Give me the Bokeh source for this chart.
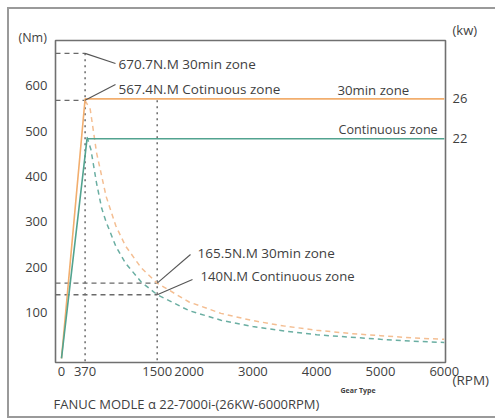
from bokeh.plotting import figure
from bokeh.models import Range1d, LinearAxis, FixedTicker, Label, Title
from bokeh.embed import file_html
from bokeh.resources import INLINE

# ---- data ----
x_ticks = [0, 370, 1500, 2000, 3000, 4000, 5000, 6000]
y_ticks = [100, 200, 300, 400, 500, 600]
kw_ticks = [22, 26]

# power curves (kW, right axis)
p30_rpm = [0, 370, 6000]
p30_kw = [0, 26, 26]
pc_rpm = [0, 400, 6000]
pc_kw = [0, 22, 22]

# torque curves (Nm, left axis)
t30_rpm = [370, 450, 550, 700, 850, 1000, 1250, 1500, 2000, 2500, 3000, 3500, 4000, 4500, 5000, 5500, 6000]
t30_nm = [567, 548, 452, 356, 292, 248, 199, 165.5, 124, 99, 83, 71, 62, 55, 50, 45, 42]
tc_rpm = [400, 460, 550, 630, 700, 850, 1000, 1250, 1500, 2000, 2500, 3000, 3500, 4000, 4500, 5000, 5500, 6000]
tc_nm = [487, 460, 385, 330, 300, 247, 210, 168, 140, 105, 84, 70, 60, 52, 47, 42, 38, 35]

# marked points
peak_rpm = 370
base_rpm = 1500
peak_nm = [670.7, 567.4]
base_nm = [165.5, 140]

# ---- figure geometry ----
W, H = 495, 419
x0, x1 = -94, 6019
y0, y1 = -9, 699
kw0, kw1 = -0.41, 31.85
FL, FR, FT, FB = 55, 445, 40, 362   # frame in canvas pixels

def px2x(px):
    return x0 + (px - FL) / (FR - FL) * (x1 - x0)

def py2y(py):
    return y1 - (py - FT) / (FB - FT) * (y1 - y0)

ORANGE = "#F2AE6E"
GREEN = "#52A38F"
ORANGE_D = "#F4BE92"
GREEN_D = "#6AAEA2"
GRAY = "#6a6a6a"
TXT = "#3f3f3f"
FONT = "Open Sans"
EDGE = "#9a9a9a"

p = figure(width=W, height=H, output_backend="svg", toolbar_location=None,
           x_range=Range1d(x0, x1), y_range=Range1d(y0, y1),
           min_border_left=FL, min_border_right=W - FR,
           min_border_top=FT, min_border_bottom=H - FB)
p.extra_y_ranges = {"kw": Range1d(kw0, kw1)}
p.xgrid.visible = False
p.ygrid.visible = False
p.outline_line_color = "#707070"
p.outline_line_width = 1.6
p.background_fill_color = "white"
p.border_fill_alpha = 0
p.styles = {"background":
            f"linear-gradient({EDGE},{EDGE}) 7px 7px / 2px 411px no-repeat, "
            f"linear-gradient({EDGE},{EDGE}) 7px 7px / 488px 2px no-repeat, "
            f"linear-gradient({EDGE},{EDGE}) 7px 416px / 488px 2px no-repeat, white"}

for ax in (p.xaxis[0], p.yaxis[0]):
    ax.axis_line_color = None
    ax.major_tick_line_color = None
    ax.minor_tick_line_color = None
    ax.major_tick_out = 0
    ax.major_tick_in = 0
    ax.major_label_text_font = FONT
    ax.major_label_text_font_size = "13px"
    ax.major_label_text_color = TXT
p.xaxis[0].ticker = FixedTicker(ticks=x_ticks)
p.yaxis[0].ticker = FixedTicker(ticks=y_ticks)
p.xaxis[0].major_label_standoff = 4
p.yaxis[0].major_label_standoff = 8

rax = LinearAxis(y_range_name="kw", ticker=FixedTicker(ticks=kw_ticks))
rax.axis_line_color = None
rax.major_tick_line_color = None
rax.minor_tick_line_color = None
rax.major_tick_out = 0
rax.major_tick_in = 0
rax.major_label_text_font = FONT
rax.major_label_text_font_size = "13px"
rax.major_label_text_color = TXT
rax.major_label_standoff = 7
p.add_layout(rax, "right")

# reference dashed / dotted lines
p.segment(x0=[x0, x0], y0=peak_nm, x1=[peak_rpm, peak_rpm], y1=peak_nm,
          line_color=GRAY, line_width=1.4, line_dash="5 4")
p.segment(x0=[x0, x0], y0=base_nm, x1=[base_rpm, base_rpm], y1=base_nm,
          line_color=GRAY, line_width=1.4, line_dash="5 4")
p.segment(x0=[peak_rpm], y0=[peak_nm[0]], x1=[peak_rpm], y1=[y0],
          line_color=GRAY, line_width=1.5, line_dash="2 4")
p.segment(x0=[base_rpm], y0=[peak_nm[1]], x1=[base_rpm], y1=[y0],
          line_color=GRAY, line_width=1.5, line_dash="2 4")

# torque (dashed)
p.line(t30_rpm, t30_nm, line_color=ORANGE_D, line_width=1.5, line_dash="5 4")
p.line(tc_rpm, tc_nm, line_color=GREEN_D, line_width=1.5, line_dash="5 4")

# power (solid)
p.line(p30_rpm, p30_kw, y_range_name="kw", line_color=ORANGE, line_width=1.6)
p.line(pc_rpm, pc_kw, y_range_name="kw", line_color=GREEN, line_width=1.6)

# leader lines
lead_end = [(115, 63), (115, 84), (190, 254), (192, 279)]
lead_start = [(peak_rpm, peak_nm[0]), (peak_rpm, peak_nm[1]),
              (base_rpm, base_nm[0]), (base_rpm, base_nm[1])]
p.segment(x0=[s[0] for s in lead_start], y0=[s[1] for s in lead_start],
          x1=[px2x(e[0]) for e in lead_end], y1=[py2y(e[1]) for e in lead_end],
          line_color="#555555", line_width=1.1)

# in-frame annotations
for t, px, py, s in [("670.7N.M 30min zone", 118, 63, "13.5px"),
                     ("567.4N.M Cotinuous zone", 118, 88, "13.5px"),
                     ("30min zone", 337, 89, "13.2px"),
                     ("Continuous zone", 338, 129, "12.6px"),
                     ("165.5N.M 30min zone", 197, 252, "13.5px"),
                     ("140N.M Continuous zone", 200, 275, "13.1px")]:
    p.add_layout(Label(text=t, x=px, y=py, x_units="canvas", y_units="canvas",
                       text_font=FONT, text_font_size=s, text_color=TXT,
                       text_align="left", text_baseline="middle"))

# texts outside the frame: titles in side panels (row height = 2 + text height + standoff)
def row_title(text, side, px, size_px, row_h, bold=False):
    h = size_px * 1.36
    t = Title(text=text, align="left", offset=px - FL, vertical_align="middle",
              standoff=row_h - 2 - h, text_font=FONT, text_font_size=f"{size_px}px",
              text_font_style="bold" if bold else "normal", text_color=TXT)
    p.add_layout(t, side)

row_title("(Nm)", "above", 18, 12.5, 6)
row_title("(kw)", "above", 452, 13, 10)
row_title("(RPM)", "below", 452, 13.5, 3)
row_title("Gear Type", "below", 340, 7, 18, bold=True)
row_title("FANUC MODLE \u03b1 22-7000i-(26KW-6000RPM)", "below", 53, 13, 10)

open("out.html", "w").write(file_html(p, INLINE))
